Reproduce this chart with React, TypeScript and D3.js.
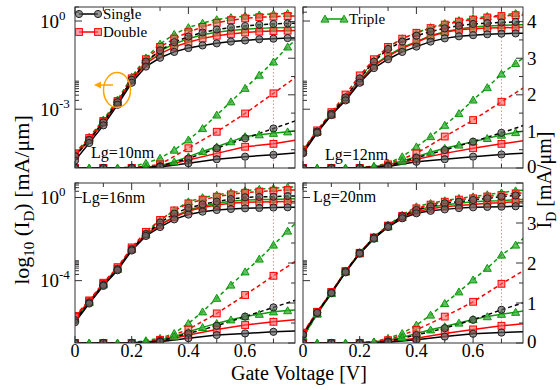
import React from "react";
import * as d3 from "d3";

const W = 560;
const H = 390;
const FONT = "'Liberation Serif', 'Times New Roman', serif";

// gate voltages [V]
const volts05 = [0, 0.05, 0.1, 0.15, 0.2, 0.25, 0.3, 0.35, 0.4, 0.45, 0.5, 0.55, 0.6, 0.65, 0.7, 0.75, 0.8];
const volts10 = [0, 0.1, 0.2, 0.3, 0.4, 0.5, 0.6, 0.7, 0.8];

// log10(I_D) [mA/um] on volts05 (left axis)
const log10nm = {
  single: [-4.75, -4.15, -3.55, -2.85, -2.1, -1.55, -1.25, -1.05, -0.92, -0.83, -0.76, -0.7, -0.66, -0.62, -0.6, -0.58, -0.57],
  singleDash: [-4.6, -4.05, -3.45, -2.76, -2.0, -1.38, -1.0, -0.72, -0.53, -0.39, -0.29, -0.22, -0.17, -0.13, -0.1, -0.08, -0.07],
  double: [-4.6, -4.05, -3.45, -2.78, -2.02, -1.45, -1.12, -0.88, -0.72, -0.59, -0.5, -0.44, -0.39, -0.36, -0.34, -0.33, -0.32],
  doubleDash: [-4.5, -3.98, -3.4, -2.72, -1.95, -1.3, -0.88, -0.6, -0.38, -0.2, -0.06, 0.03, 0.09, 0.13, 0.15, 0.17, 0.18],
  triple: [-4.55, -4.0, -3.42, -2.75, -2.0, -1.4, -1.02, -0.78, -0.6, -0.47, -0.38, -0.32, -0.28, -0.25, -0.23, -0.22, -0.21],
  tripleDash: [-4.5, -3.95, -3.36, -2.68, -1.9, -1.25, -0.78, -0.45, -0.22, -0.07, 0.05, 0.12, 0.17, 0.21, 0.24, 0.26, 0.27],
};
const log12nm = {
  single: [-4.5, -3.8, -3.2, -2.7, -2.1, -1.6, -1.3, -1.05, -0.87, -0.7, -0.59, -0.52, -0.48, -0.45, -0.43, -0.42, -0.42],
  singleDash: [-4.45, -3.76, -3.15, -2.6, -1.95, -1.38, -0.95, -0.7, -0.5, -0.36, -0.25, -0.16, -0.1, -0.07, -0.05, -0.03, -0.02],
  double: [-4.45, -3.78, -3.18, -2.66, -2.05, -1.52, -1.2, -0.93, -0.72, -0.52, -0.38, -0.3, -0.26, -0.24, -0.23, -0.22, -0.21],
  doubleDash: [-4.4, -3.72, -3.1, -2.5, -1.85, -1.3, -0.88, -0.6, -0.4, -0.24, -0.12, -0.02, 0.05, 0.12, 0.17, 0.2, 0.21],
  triple: [-4.4, -3.75, -3.18, -2.66, -2.05, -1.5, -1.17, -0.9, -0.7, -0.5, -0.36, -0.27, -0.2, -0.17, -0.15, -0.13, -0.12],
  tripleDash: [-4.35, -3.75, -3.15, -2.6, -1.95, -1.34, -0.88, -0.6, -0.4, -0.22, -0.08, 0.02, 0.09, 0.16, 0.2, 0.26, 0.28],
};
const log16nm = {
  single: [-6.0, -5.1, -4.25, -3.5, -2.55, -1.85, -1.42, -1.05, -0.82, -0.68, -0.6, -0.55, -0.52, -0.5, -0.48, -0.47, -0.47],
  singleDash: [-5.9, -5.05, -4.2, -3.45, -2.5, -1.76, -1.2, -0.78, -0.5, -0.33, -0.2, -0.08, 0.01, 0.03, 0.04, 0.07, 0.08],
  double: [-5.75, -5.0, -4.15, -3.42, -2.48, -1.78, -1.32, -0.95, -0.65, -0.48, -0.36, -0.28, -0.23, -0.21, -0.2, -0.19, -0.19],
  doubleDash: [-5.7, -4.95, -4.1, -3.35, -2.4, -1.65, -1.08, -0.62, -0.28, -0.1, 0.04, 0.15, 0.23, 0.29, 0.33, 0.36, 0.37],
  triple: [-5.85, -5.05, -4.2, -3.45, -2.5, -1.78, -1.3, -0.92, -0.6, -0.42, -0.28, -0.18, -0.12, -0.1, -0.09, -0.07, -0.06],
  tripleDash: [-5.8, -5.0, -4.15, -3.4, -2.45, -1.7, -1.1, -0.62, -0.2, 0.0, 0.12, 0.24, 0.33, 0.4, 0.44, 0.5, 0.51],
};
const log20nm = {
  single: [-6.6, -5.55, -4.6, -3.6, -2.7, -1.98, -1.42, -1.0, -0.76, -0.64, -0.57, -0.51, -0.47, -0.45, -0.44, -0.42, -0.41],
  singleDash: [-6.6, -5.55, -4.58, -3.55, -2.66, -1.93, -1.36, -0.9, -0.6, -0.42, -0.28, -0.2, -0.12, -0.04, 0.04, 0.1, 0.13],
  double: [-6.55, -5.5, -4.55, -3.55, -2.68, -1.95, -1.38, -0.95, -0.68, -0.54, -0.44, -0.38, -0.33, -0.28, -0.25, -0.2, -0.19],
  doubleDash: [-6.5, -5.5, -4.55, -3.55, -2.66, -1.92, -1.35, -0.88, -0.52, -0.34, -0.2, -0.1, -0.04, 0.05, 0.12, 0.2, 0.23],
  triple: [-6.7, -5.6, -4.62, -3.58, -2.7, -1.97, -1.4, -0.95, -0.6, -0.46, -0.36, -0.27, -0.2, -0.17, -0.15, -0.1, -0.08],
  tripleDash: [-6.75, -5.6, -4.6, -3.55, -2.65, -1.9, -1.33, -0.85, -0.44, -0.28, -0.15, -0.04, 0.04, 0.14, 0.23, 0.33, 0.37],
};

// I_D [mA/um] (right axis); single/double on volts10, triple on volts05
const lin10nm = {
  single: [0, 0, 0, 0.03, 0.13, 0.24, 0.31, 0.36, 0.43],
  singleDash: [0, 0, 0, 0.05, 0.26, 0.54, 0.81, 1.08, 1.35],
  double: [0, 0, 0, 0.04, 0.22, 0.4, 0.58, 0.66, 0.79],
  doubleDash: [0, 0, 0, 0.1, 0.54, 0.99, 1.49, 2.04, 2.6],
  triple: [0, 0, 0, 0, 0, 0.02, 0.06, 0.17, 0.31, 0.45, 0.58, 0.72, 0.86, 0.91, 0.95, 0.99, 1.04],
  tripleDash: [0, 0, 0, 0, 0.03, 0.13, 0.27, 0.49, 0.77, 1.08, 1.45, 1.81, 2.18, 2.54, 2.9, 3.31, 3.65],
};
const lin12nm = {
  single: [0, 0, 0, 0.04, 0.17, 0.24, 0.31, 0.37, 0.41],
  singleDash: [0, 0, 0, 0.06, 0.28, 0.49, 0.72, 0.96, 1.22],
  double: [0, 0, 0, 0.05, 0.24, 0.4, 0.54, 0.66, 0.77],
  doubleDash: [0, 0, 0, 0.1, 0.4, 0.86, 1.31, 1.81, 2.3],
  triple: [0, 0, 0, 0, 0.01, 0.04, 0.09, 0.19, 0.31, 0.43, 0.54, 0.63, 0.72, 0.81, 0.9, 0.97, 1.04],
  tripleDash: [0, 0, 0, 0, 0.01, 0.05, 0.13, 0.31, 0.58, 0.86, 1.17, 1.49, 1.86, 2.2, 2.57, 2.86, 3.12],
};
const lin16nm = {
  single: [0, 0, 0, 0.03, 0.12, 0.2, 0.24, 0.28, 0.31],
  singleDash: [0, 0, 0, 0.05, 0.24, 0.43, 0.66, 0.89, 1.12],
  double: [0, 0, 0, 0.04, 0.2, 0.34, 0.45, 0.53, 0.6],
  doubleDash: [0, 0, 0, 0.08, 0.34, 0.74, 1.2, 1.68, 2.15],
  triple: [0, 0, 0, 0, 0.01, 0.03, 0.07, 0.16, 0.28, 0.39, 0.49, 0.58, 0.66, 0.72, 0.78, 0.81, 0.84],
  tripleDash: [0, 0, 0, 0, 0.01, 0.06, 0.12, 0.24, 0.49, 0.78, 1.12, 1.45, 1.78, 2.1, 2.45, 2.8, 3.15],
};
const lin20nm = {
  single: [0, 0, 0, 0.02, 0.08, 0.16, 0.23, 0.26, 0.29],
  singleDash: [0, 0, 0, 0.04, 0.2, 0.37, 0.58, 0.83, 1.06],
  double: [0, 0, 0, 0.03, 0.12, 0.24, 0.34, 0.43, 0.5],
  doubleDash: [0, 0, 0, 0.07, 0.33, 0.66, 1.03, 1.48, 1.9],
  triple: [0, 0, 0, 0, 0.01, 0.03, 0.07, 0.14, 0.24, 0.33, 0.41, 0.5, 0.59, 0.66, 0.72, 0.77, 0.83],
  tripleDash: [0, 0, 0, 0, 0.01, 0.03, 0.12, 0.24, 0.45, 0.7, 0.99, 1.28, 1.58, 1.87, 2.2, 2.45, 2.75],
};

const xTicks = [0, 0.1, 0.2, 0.3, 0.4, 0.5, 0.6, 0.7];
const xTickLabels = ["0", "0.2", "0.4", "0.6"];
const legendNames = ["Single", "Double", "Triple"];

const BLACK = "#000000";
const RED = "#ff0000";
const GREEN = "#0a9a0a";

type Kind = "circle" | "square" | "triangle";
const seriesStyle: { key: string; color: string; kind: Kind; dash: string | null; lin10: boolean }[] = [
  { key: "tripleDash", color: GREEN, kind: "triangle", dash: "4,3", lin10: false },
  { key: "triple", color: GREEN, kind: "triangle", dash: null, lin10: false },
  { key: "doubleDash", color: RED, kind: "square", dash: "4,3", lin10: true },
  { key: "double", color: RED, kind: "square", dash: null, lin10: true },
  { key: "singleDash", color: BLACK, kind: "circle", dash: "4,3", lin10: true },
  { key: "single", color: BLACK, kind: "circle", dash: null, lin10: true },
];

const panels = [
  { id: "p10", name: "Lg=10nm", log: log10nm, lin: lin10nm, x0: 75, top: 7, bottom: 168, logDom: [1e-5, 3], logMajor: [1e-6, 1e-3, 1], logLabels: [[1, "0"], [1e-3, "-3"]], linMax: 4.4, left: true, lower: false, tx: 91, ty: 158 },
  { id: "p12", name: "Lg=12nm", log: log12nm, lin: lin12nm, x0: 303, top: 7, bottom: 168, logDom: [1e-5, 3], logMajor: [1e-6, 1e-3, 1], logLabels: [], linMax: 4.4, left: false, lower: false, tx: 325, ty: 160 },
  { id: "p16", name: "Lg=16nm", log: log16nm, lin: lin16nm, x0: 75, top: 183, bottom: 343, logDom: [1e-7, 5], logMajor: [1e-8, 1e-4, 1], logLabels: [[1, "0"], [1e-4, "-4"]], linMax: 4, left: true, lower: true, tx: 82, ty: 203 },
  { id: "p20", name: "Lg=20nm", log: log20nm, lin: lin20nm, x0: 303, top: 183, bottom: 343, logDom: [1e-7, 5], logMajor: [1e-8, 1e-4, 1], logLabels: [], linMax: 4, left: false, lower: true, tx: 313, ty: 202 },
];

function Marker({ kind, x, y, color }: { kind: Kind; x: number; y: number; color: string }) {
  if (kind === "circle") {
    return <circle cx={x} cy={y} r={3.6} fill="rgba(95,95,95,0.65)" stroke="#222" strokeWidth={1} />;
  }
  if (kind === "square") {
    return <rect x={x - 3.4} y={y - 3.4} width={6.8} height={6.8} fill="rgba(255,95,95,0.6)" stroke={color} strokeWidth={1} />;
  }
  const p = d3.symbol(d3.symbolTriangle, 28)();
  return <path d={p || ""} transform={`translate(${x},${y + 0.8})`} fill="rgba(60,175,60,0.8)" stroke={color} strokeWidth={1} />;
}

function Panel({ p }: { p: (typeof panels)[number] }) {
  const x = d3.scaleLinear().domain([0, 0.776]).range([p.x0, p.x0 + 220]);
  const yLog = d3.scaleLog().domain(p.logDom).range([p.bottom, p.top]);
  const yLin = d3.scaleLinear().domain([0, p.linMax]).range([p.bottom, p.top]);
  const line = d3.line<[number, number]>().x((d) => d[0]).y((d) => d[1]);
  const x1 = p.x0 + 220;

  const ticks: JSX.Element[] = [];
  xTicks.forEach((v, i) => {
    const len = i % 2 === 0 ? 7 : 4;
    const xx = x(v);
    ticks.push(<line key={`tb${i}`} x1={xx} x2={xx} y1={p.bottom} y2={p.bottom - len} />);
    ticks.push(<line key={`tt${i}`} x1={xx} x2={xx} y1={p.top} y2={p.top + len} />);
  });
  const [lo, hi] = p.logDom;
  p.logMajor.forEach((m, i) => {
    if (m >= lo && m <= hi) ticks.push(<line key={`lm${i}`} x1={p.x0} x2={p.x0 + 7} y1={yLog(m)} y2={yLog(m)} />);
    for (let k = 2; k <= 9; k++) {
      const v = k * m;
      if (v >= lo && v <= hi) ticks.push(<line key={`ln${i}-${k}`} x1={p.x0} x2={p.x0 + 4} y1={yLog(v)} y2={yLog(v)} />);
    }
  });
  for (let v = 0; v <= p.linMax + 1e-9; v += 0.5) {
    const major = Math.abs(v - Math.round(v)) < 1e-9;
    const len = major ? 7 : 4;
    ticks.push(<line key={`r${v}`} x1={x1} x2={x1 - len} y1={yLin(v)} y2={yLin(v)} />);
  }

  const curves: JSX.Element[] = [];
  seriesStyle.forEach((s) => {
    const logVals: number[] = (p.log as any)[s.key];
    const pts: [number, number][] = logVals.map((e, i) => [x(volts05[i]), yLog(Math.pow(10, e))]);
    curves.push(<path key={`lg-${s.key}`} d={line(pts) || ""} fill="none" stroke={s.color} strokeWidth={1.5} strokeDasharray={s.dash || undefined} />);
    const vs = s.lin10 ? volts10 : volts05;
    const linVals: number[] = (p.lin as any)[s.key];
    const lpts: [number, number][] = linVals.map((v, i) => [x(vs[i]), yLin(v)]);
    curves.push(<path key={`li-${s.key}`} d={line(lpts) || ""} fill="none" stroke={s.color} strokeWidth={1.5} strokeDasharray={s.dash || undefined} />);
  });
  seriesStyle.forEach((s) => {
    const logVals: number[] = (p.log as any)[s.key];
    logVals.forEach((e, i) => {
      if (volts05[i] > 0.76) return;
      curves.push(<Marker key={`mg-${s.key}-${i}`} kind={s.kind} color={s.color} x={x(volts05[i])} y={yLog(Math.pow(10, e))} />);
    });
    const vs = s.lin10 ? volts10 : volts05;
    const linVals: number[] = (p.lin as any)[s.key];
    linVals.forEach((v, i) => {
      if (vs[i] > 0.76) return;
      curves.push(<Marker key={`mi-${s.key}-${i}`} kind={s.kind} color={s.color} x={x(vs[i])} y={yLin(v)} />);
    });
  });

  const vd = 0.7;
  const idx = volts05.indexOf(vd);
  const dotTop = yLog(Math.pow(10, (p.log as any).single[idx]));

  return (
    <g>
      <defs>
        <clipPath id={`clip-${p.id}`}>
          <rect x={p.x0} y={p.top} width={220} height={p.bottom - p.top} />
        </clipPath>
      </defs>
      <line x1={x(vd)} x2={x(vd)} y1={p.bottom} y2={dotTop} stroke="#c49a9a" strokeWidth={1} strokeDasharray="1.5,2" />
      <g clipPath={`url(#clip-${p.id})`}>{curves}</g>
      <rect x={p.x0} y={p.top} width={220} height={p.bottom - p.top} fill="none" stroke="#333" strokeWidth={1} />
      <g stroke="#333" strokeWidth={1}>{ticks}</g>
      <text x={p.tx} y={p.ty} fontSize={16} fontFamily={FONT}>{p.name}</text>
      {p.left &&
        p.logLabels.map(([v, sup]) => (
          <text key={String(sup)} x={40} y={yLog(v as number) + 6.5} fontSize={19} fontFamily={FONT}>
            10<tspan dy={-8} fontSize={13}>{sup as string}</tspan>
          </text>
        ))}
      {!p.left &&
        d3.range(0, Math.floor(p.linMax) + 1).filter((v) => yLin(v) > p.top + 2 || !p.lower).map((v) => (
          <text key={v} x={527} y={Math.min(yLin(v) + 6.5, p.bottom + 5)} fontSize={19} fontFamily={FONT}>{v}</text>
        ))}
      {p.lower &&
        xTickLabels.map((t) => (
          <text key={t} x={x(+t)} y={357} fontSize={18} fontFamily={FONT} textAnchor="middle">{t}</text>
        ))}
    </g>
  );
}

function Legend() {
  const rows = [
    { name: legendNames[0], kind: "circle" as Kind, color: BLACK, x: 79, y: 14 },
    { name: legendNames[1], kind: "square" as Kind, color: RED, x: 79, y: 32 },
    { name: legendNames[2], kind: "triangle" as Kind, color: GREEN, x: 325, y: 19 },
  ];
  return (
    <g>
      {rows.map((r) => (
        <g key={r.name}>
          <line x1={r.x} x2={r.x + 19} y1={r.y} y2={r.y} stroke={r.color} strokeWidth={1.5} />
          <Marker kind={r.kind} color={r.color} x={r.x} y={r.y} />
          <Marker kind={r.kind} color={r.color} x={r.x + 19} y={r.y} />
          <text x={r.x + 24} y={r.y + 5} fontSize={15} fontFamily={FONT}>{r.name}</text>
        </g>
      ))}
    </g>
  );
}

export default function App() {
  return (
    <svg width={W} height={H} style={{ position: "absolute", left: 0, top: 0, background: "#fff" }}>
      {panels.map((p) => (
        <Panel key={p.id} p={p} />
      ))}
      <Legend />
      <ellipse cx={117} cy={90} rx={13.5} ry={17.5} fill="none" stroke="#ffa500" strokeWidth={1.5} />
      <line x1={113} x2={99} y1={85} y2={85} stroke="#ffa500" strokeWidth={1.5} />
      <path d="M94,85 L101,81.5 L101,88.5 Z" fill="#ffa500" />
      <text x={299} y={380} fontSize={20} fontFamily={FONT} textAnchor="middle">Gate Voltage [V]</text>
      <text transform="translate(29,200) rotate(-90)" fontSize={22} fontFamily={FONT} textAnchor="middle">
        log<tspan fontSize={15} dy={5}>10</tspan>
        <tspan dy={-5}> (I</tspan>
        <tspan fontSize={15} dy={5}>D</tspan>
        <tspan dy={-5}>) [mA/μm]</tspan>
      </text>
      <text transform="translate(551,180) rotate(-90)" fontSize={20} fontFamily={FONT} textAnchor="middle">
        I<tspan fontSize={14} dy={5}>D</tspan>
        <tspan dy={-5}> [mA/μm]</tspan>
      </text>
    </svg>
  );
}
